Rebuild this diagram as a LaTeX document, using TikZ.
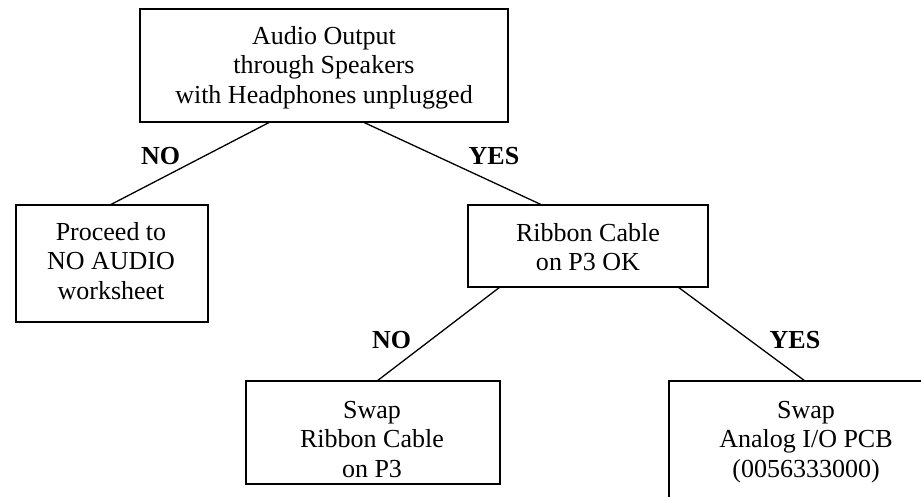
\documentclass[tikz,border=0pt]{standalone}
\usepackage{fontspec}
\setmainfont{Liberation Serif}
\begin{document}
\begin{tikzpicture}[x=1pt,y=-1pt,
  boxnode/.style={draw, line width=1.3pt, rectangle, inner sep=0pt, outer sep=0pt},
  txt/.style={inner sep=0pt, align=center, anchor=north, font=\fontsize{26}{29.5}\selectfont},
  lab/.style={inner sep=0pt, anchor=base, font=\fontsize{26}{29.5}\selectfont\bfseries},
  conn/.style={line width=1.3pt}]
\clip (0,0) rectangle (921,497);
\fill[white] (0,0) rectangle (921,497);
% boxes
\node[boxnode, minimum width=368pt, minimum height=113pt] (top) at (324,65.5) {};
\node[boxnode, minimum width=192pt, minimum height=117pt] (left) at (112,263.5) {};
\node[boxnode, minimum width=240pt, minimum height=82pt] (mid) at (588,246) {};
\node[boxnode, minimum width=254pt, minimum height=103pt] (bl) at (373,432.5) {};
\node[boxnode, minimum width=281pt, minimum height=119pt] (br) at (809.5,440.5) {};
% texts
\node[txt] (toptxt) at (324,23.35) {\strut Audio Output\\\strut through Speakers\\\strut with Headphones unplugged};
\node[txt] (lefttxt) at (111,219.35) {\strut Proceed to\\\strut NO AUDIO\\\strut worksheet};
\node[txt] (midtxt) at (588,220.35) {\strut Ribbon Cable\\\strut on P3 OK};
\node[txt] (bltxt) at (372,397.35) {\strut Swap\\\strut Ribbon Cable\\\strut on P3};
\node[txt] (brtxt) at (806,397.35) {\strut Swap\\\strut Analog I/O PCB\\\strut (0056333000)};
% connectors
\draw[conn] ([xshift=130pt]top.south west) -- ([xshift=94pt]left.north west);
\draw[conn] ([xshift=223pt]top.south west) -- ([xshift=74pt]mid.north west);
\draw[conn] ([xshift=32pt]mid.south west) -- ([xshift=131pt]bl.north west);
\draw[conn] ([xshift=210pt]mid.south west) -- ([xshift=136pt]br.north west);
% labels
\node[lab] (no1) at (160.5,165) {NO};
\node[lab] (yes1) at (494,165) {YES};
\node[lab] (no2) at (391.5,348) {NO};
\node[lab] (yes2) at (795,348) {YES};
\end{tikzpicture}
\end{document}
